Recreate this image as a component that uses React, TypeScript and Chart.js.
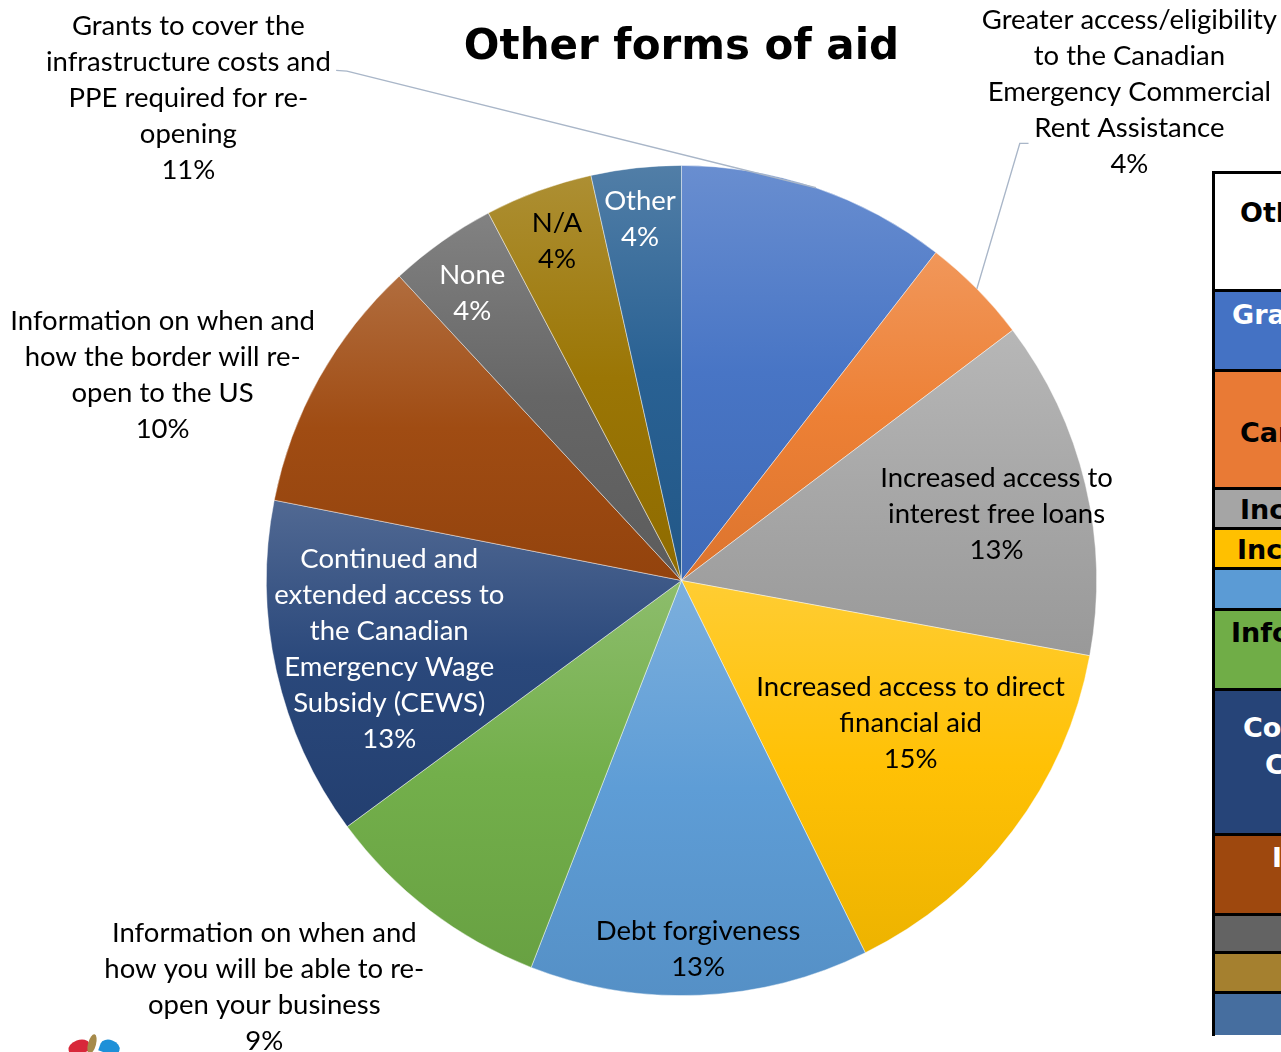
import React, { useEffect, useRef } from "react";
import { Chart, registerables } from "chart.js";

Chart.register(...registerables);

const chartTitle = "Other forms of aid";

const categories = [
  "Grants to cover the infrastructure costs and PPE required for re-opening",
  "Greater access/eligibility to the Canadian Emergency Commercial Rent Assistance",
  "Increased access to interest free loans",
  "Increased access to direct financial aid",
  "Debt forgiveness",
  "Information on when and how you will be able to re-open your business",
  "Continued and extended access to the Canadian Emergency Wage Subsidy (CEWS)",
  "Information on when and how the border will re-open to the US",
  "None",
  "N/A",
  "Other",
];

const values = [10.5, 4.2, 13.2, 14.8, 13.2, 9.0, 13.2, 10.0, 4.2, 4.2, 3.5];

const baseColors = [
  "#4472C4", "#ED7D31", "#A5A5A5", "#FFC000", "#5B9BD5", "#70AD47",
  "#264478", "#9E480E", "#636363", "#997300", "#255E91",
];

const labelLines = [
  ["Grants to cover the", "infrastructure costs and", "PPE required for re-", "opening"],
  ["Greater access/eligibility", "to the Canadian", "Emergency Commercial", "Rent Assistance"],
  ["Increased access to", "interest free loans"],
  ["Increased access to direct", "financial aid"],
  ["Debt forgiveness"],
  ["Information on when and", "how you will be able to re-", "open your business"],
  ["Continued and", "extended access to", "the Canadian", "Emergency Wage", "Subsidy (CEWS)"],
  ["Information on when and", "how the border will re-", "open to the US"],
  ["None"],
  ["N/A"],
  ["Other"],
];

// label block centre, in pie-radius units relative to the pie centre
const labelOffsets = [
  [-1.188, -1.162], [1.079, -1.177], [0.759, -0.160], [0.552, 0.344],
  [0.040, 0.888], [-1.005, 0.980], [-0.704, 0.165], [-1.250, -0.495],
  [-0.504, -0.692], [-0.300, -0.817], [-0.100, -0.870],
];

const labelColors = [
  "#000", "#000", "#000", "#000", "#000", "#000", "#fff", "#000", "#fff", "#000", "#fff",
];

// leader lines: [start point, knee point] in radius units; end at the slice's outer edge
const leaders: Record<number, number[][]> = {
  0: [[-0.832, -1.229], [-0.806, -1.227]],
  1: [[0.836, -1.053], [0.815, -1.053]],
};

const tableRows = [
  { h: 118, bg: "#ffffff", text: ["Other forms of aid"], color: "#000", x: [25], y: [39] },
  { h: 80, bg: "#4472C4", text: ["Grants to cover"], color: "#fff", x: [17], y: [23] },
  { h: 118, bg: "#E97A35", text: ["Canadian"], color: "#000", x: [25], y: [61] },
  { h: 40, bg: "#A5A5A5", text: ["Increased"], color: "#000", x: [25], y: [20] },
  { h: 40, bg: "#FFC000", text: ["Increased"], color: "#000", x: [22], y: [20] },
  { h: 41, bg: "#5B9BD5", text: [], color: "#000", x: [], y: [] },
  { h: 80, bg: "#70AD47", text: ["Information"], color: "#000", x: [16], y: [22] },
  { h: 145, bg: "#264478", text: ["Continued", "CEWS"], color: "#fff", x: [28, 50], y: [37, 74] },
  { h: 80, bg: "#9E480E", text: ["Information"], color: "#fff", x: [57], y: [22] },
  { h: 38, bg: "#636363", text: [], color: "#fff", x: [], y: [] },
  { h: 40, bg: "#A5802F", text: [], color: "#fff", x: [], y: [] },
  { h: 41, bg: "#466E9F", text: [], color: "#fff", x: [], y: [] },
];

function hexToRgb(h: string) {
  const n = parseInt(h.slice(1), 16);
  return [(n >> 16) & 255, (n >> 8) & 255, n & 255];
}
function mix(h: string, t: number[], a: number) {
  const c = hexToRgb(h);
  const r = c.map((v, i) => Math.round(v + (t[i] - v) * a));
  return `rgb(${r[0]},${r[1]},${r[2]})`;
}

function sliceGradient(ctx: any) {
  const chart = ctx.chart;
  const i = ctx.dataIndex;
  const base = baseColors[i];
  const area = chart.chartArea;
  if (!area || i === undefined) return base;
  const cx = (area.left + area.right) / 2;
  const cy = (area.top + area.bottom) / 2;
  const r = Math.min(area.right - area.left, area.bottom - area.top) / 2;
  const total = values.reduce((s, v) => s + v, 0);
  const before = values.slice(0, i).reduce((s, v) => s + v, 0);
  const a0 = -Math.PI / 2 + (before / total) * Math.PI * 2;
  const a1 = a0 + (values[i] / total) * Math.PI * 2;
  const ys = [cy, cy + r * Math.sin(a0), cy + r * Math.sin(a1)];
  for (let k = -1; k <= 2; k++) {
    const top = -Math.PI / 2 + k * 2 * Math.PI;
    const bot = Math.PI / 2 + k * 2 * Math.PI;
    if (top > a0 && top < a1) ys.push(cy - r);
    if (bot > a0 && bot < a1) ys.push(cy + r);
  }
  const minY = Math.min(...ys);
  const maxY = Math.max(...ys);
  const g = chart.ctx.createLinearGradient(0, minY, 0, maxY + 0.01);
  g.addColorStop(0, mix(base, [255, 255, 255], 0.2));
  g.addColorStop(0.5, mix(base, [255, 255, 255], 0.02));
  g.addColorStop(1, mix(base, [0, 0, 0], 0.07));
  return g;
}

const FONT = "Lato";
const FONT_SIZE = 27.5;
const LINE_H = 36;

const labelsPlugin = {
  id: "sliceLabels",
  afterDatasetsDraw(chart: any) {
    const meta = chart.getDatasetMeta(0);
    const c = chart.ctx;
    const total = values.reduce((s, v) => s + v, 0);
    c.save();
    const first = meta.data[0];
    const cx0 = first.x;
    c.fillStyle = "#000";
    c.font = "bold 42px 'DejaVu Sans'";
    c.textAlign = "center";
    c.textBaseline = "middle";
    c.fillText(chartTitle, cx0, 48);

    meta.data.forEach((arc: any, i: number) => {
      const { x, y, outerRadius, startAngle, endAngle } = arc.getProps(
        ["x", "y", "outerRadius", "startAngle", "endAngle"], true
      );
      const R = outerRadius;
      const pct = Math.round((values[i] * 100) / total + 1e-9) + "%";
      const lines = [...labelLines[i], pct];
      const lx = x + labelOffsets[i][0] * R;
      const ly = y + labelOffsets[i][1] * R;
      if (leaders[i]) {
        const mid = (startAngle + endAngle) / 2;
        const ex = x + Math.cos(mid) * R;
        const ey = y + Math.sin(mid) * R;
        c.beginPath();
        c.strokeStyle = "#A9B6C8";
        c.lineWidth = 1.4;
        c.moveTo(x + leaders[i][0][0] * R, y + leaders[i][0][1] * R);
        c.lineTo(x + leaders[i][1][0] * R, y + leaders[i][1][1] * R);
        c.lineTo(ex, ey);
        c.stroke();
      }
      c.fillStyle = labelColors[i];
      c.font = `${FONT_SIZE}px ${FONT}`;
      c.textAlign = "center";
      c.textBaseline = "middle";
      const n = lines.length;
      lines.forEach((ln, k) => {
        c.fillText(ln, lx, ly + (k - (n - 1) / 2) * LINE_H);
      });
    });
    c.restore();
  },
};

export default function App() {
  const ref = useRef<HTMLCanvasElement | null>(null);
  useEffect(() => {
    document.body.style.margin = "0";
    document.body.style.overflow = "hidden";
    const canvas = ref.current!;
    const chart = new Chart(canvas, {
      type: "pie",
      data: {
        labels: categories,
        datasets: [
          {
            data: values,
            backgroundColor: sliceGradient as any,
            borderColor: "rgba(255,255,255,0.55)",
            borderWidth: 0.8,
          },
        ],
      },
      options: {
        responsive: false,
        animation: false,
        devicePixelRatio: 1,
        layout: { padding: { left: 266, right: 184, top: 165, bottom: 56 } },
        plugins: {
          legend: { display: false },
          tooltip: { enabled: false },
          title: { display: false },
        },
      },
      plugins: [labelsPlugin],
    });
    return () => chart.destroy();
  }, []);

  let top = 174;
  return (
    <div style={{ position: "fixed", left: 0, top: 0, width: 1281, height: 1052, overflow: "hidden", background: "#fff" }}>
      <canvas ref={ref} width={1281} height={1052} style={{ position: "absolute", left: 0, top: 0, width: 1281, height: 1052 }} />
      <div style={{ position: "absolute", left: 1212, top: 171, width: 200, height: 3, background: "#000" }} />
      {tableRows.map((row, i) => {
        const t = top;
        top += row.h;
        return (
          <div key={i} style={{ position: "absolute", left: 1215, top: t, width: 200, height: row.h, background: row.bg, borderBottom: i < tableRows.length - 1 ? "3px solid #000" : "none", boxSizing: "border-box", overflow: "hidden", fontFamily: "'DejaVu Sans'", fontWeight: "bold", fontSize: 27, color: row.color, whiteSpace: "nowrap" }}>
            {row.text.map((s, k) => (
              <div key={k} style={{ position: "absolute", left: row.x[k], top: row.y[k] - 16, lineHeight: "32px" }}>{s}</div>
            ))}
          </div>
        );
      })}
      <div style={{ position: "absolute", left: 1212, top: 171, width: 3, height: 865, background: "#000" }} />
      <div style={{ position: "absolute", left: 68, top: 1040, width: 22, height: 14, borderRadius: "50% 50% 0 0", background: "#D8283A", transform: "rotate(-20deg)" }} />
      <div style={{ position: "absolute", left: 88, top: 1034, width: 8, height: 20, borderRadius: "50%", background: "#A68A4A", transform: "rotate(15deg)" }} />
      <div style={{ position: "absolute", left: 100, top: 1040, width: 20, height: 14, borderRadius: "50% 50% 0 0", background: "#1E90D8", transform: "rotate(20deg)" }} />
    </div>
  );
}
